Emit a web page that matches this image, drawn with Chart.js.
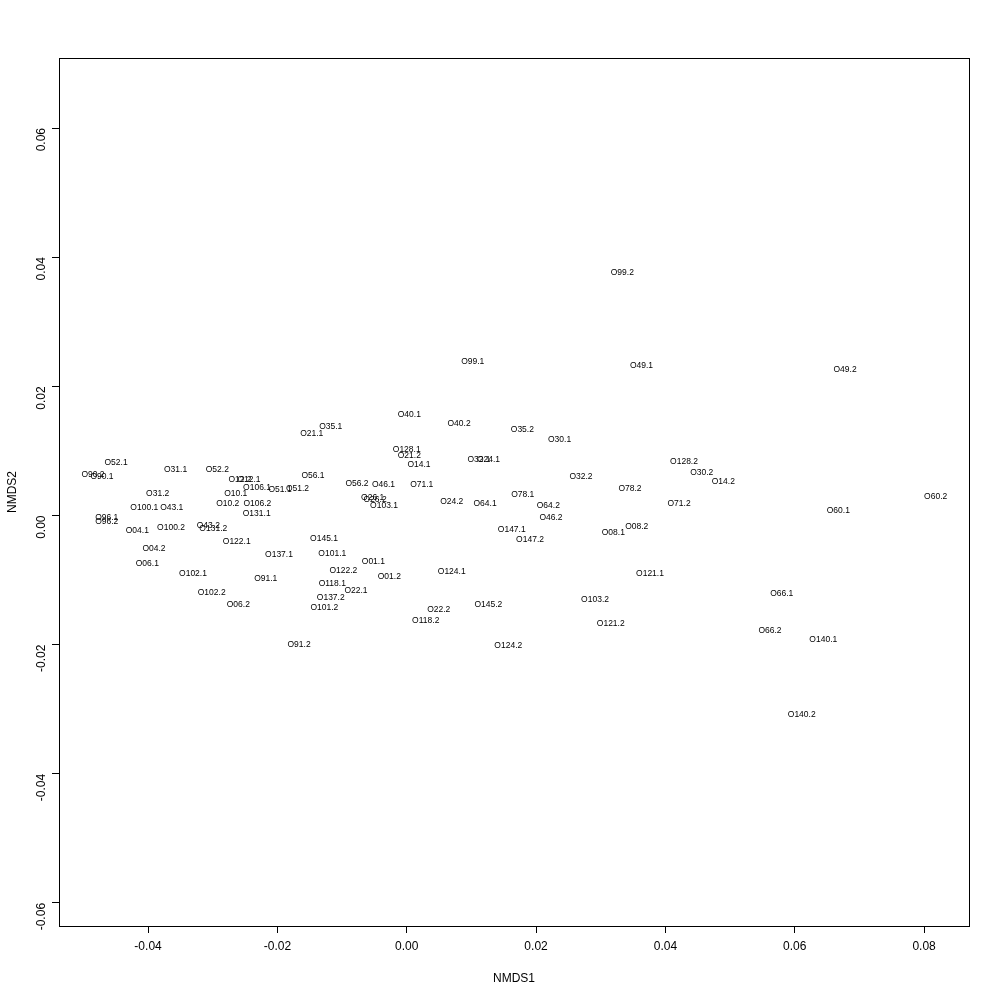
<!DOCTYPE html>
<html>
<head>
<meta charset="utf-8">
<script src="https://cdn.jsdelivr.net/npm/chart.js@4/dist/chart.umd.min.js"></script>
<style>
  html, body { margin: 0; padding: 0; background: #fff; }
  #wrap { width: 1000px; height: 1000px; }
</style>
</head>
<body>
<div id="wrap"><canvas id="nmds-chart__figure" width="1000" height="1000"></canvas></div>
<script>
/**************************************************************
                     NMDS ORDINATION PLOT
***************************************************************/
let sampleNames = [
  "O52.1", "O90.2", "O90.1", "O31.1", "O52.2", "O31.2", "O100.1", "O43.1", "O96.1", "O96.2",
  "O04.1", "O100.2", "O43.2", "O131.2", "O122.1", "O04.2", "O06.1", "O10.1", "O10.2", "O106.1",
  "O106.2", "O131.1", "O12.2", "O12.1", "O56.1", "O51.1", "O51.2", "O56.2", "O46.1", "O26.1",
  "O26.2", "O103.1", "O102.1", "O102.2", "O06.2", "O137.1", "O91.1", "O91.2", "O145.1", "O101.1",
  "O01.1", "O122.2", "O01.2", "O124.1", "O118.1", "O22.1", "O137.2", "O101.2", "O22.2", "O118.2",
  "O40.1", "O40.2", "O35.1", "O21.1", "O128.1", "O21.2", "O14.1", "O71.1", "O24.2", "O32.1",
  "O24.1", "O64.1", "O78.1", "O64.2", "O46.2", "O147.1", "O147.2", "O32.2", "O30.1", "O128.2",
  "O30.2", "O14.2", "O78.2", "O71.2", "O08.1", "O08.2", "O121.1", "O145.2", "O103.2", "O121.2",
  "O124.2", "O66.1", "O66.2", "O140.1", "O140.2", "O60.2", "O60.1", "O99.1", "O49.1", "O99.2",
  "O49.2", "O35.2"
]
let nmds1 = [
  -0.04495, -0.04851, -0.04712, -0.03575, -0.02929, -0.03851, -0.04058, -0.03634, -0.04639, -0.04639,
  -0.04166, -0.03645, -0.03068, -0.02991, -0.02629, -0.03908, -0.04011, -0.02644, -0.02768, -0.02315,
  -0.02310, -0.02320, -0.02578, -0.02439, -0.01449, -0.01959, -0.01689, -0.00769, -0.00359, -0.00526,
  -0.00490, -0.00351, -0.03305, -0.03016, -0.02604, -0.01975, -0.02180, -0.01665, -0.01279, -0.01151,
  -0.00516, -0.00980, -0.00269, 0.00696, -0.01151, -0.00784, -0.01175, -0.01274, 0.00495, 0.00294,
  0.00040, 0.00809, -0.01175, -0.01469, 0.00000, 0.00040, 0.00190, 0.00232, 0.00696, 0.01118,
  0.01265, 0.01211, 0.01794, 0.02190, 0.02231, 0.01624, 0.01907, 0.02695, 0.02363, 0.04288,
  0.04562, 0.04896, 0.03453, 0.04211, 0.03195, 0.03557, 0.03762, 0.01262, 0.02912, 0.03155,
  0.01571, 0.05799, 0.05618, 0.06442, 0.06108, 0.08180, 0.06674, 0.01021, 0.03631, 0.03334,
  0.06778, 0.01788
]
let nmds2 = [
  0.00824, 0.00627, 0.00596, 0.00705, 0.00715, 0.00344, 0.00127, 0.00127, -0.00034, -0.00096,
  -0.00240, -0.00189, -0.00152, -0.00204, -0.00406, -0.00508, -0.00740, 0.00338, 0.00189, 0.00426,
  0.00183, 0.00034, 0.00557, 0.00550, 0.00612, 0.00406, 0.00410, 0.00488, 0.00472, 0.00282,
  0.00251, 0.00147, -0.00898, -0.01195, -0.01386, -0.00612, -0.00972, -0.02008, -0.00364, -0.00585,
  -0.00709, -0.00859, -0.00952, -0.00875, -0.01050, -0.01169, -0.01267, -0.01422, -0.01463, -0.01629,
  0.01556, 0.01428, 0.01375, 0.01273, 0.01025, 0.00921, 0.00782, 0.00483, 0.00214, 0.00859,
  0.00859, 0.00178, 0.00328, 0.00152, -0.00034, -0.00214, -0.00369, 0.00601, 0.01169, 0.00833,
  0.00663, 0.00519, 0.00410, 0.00178, -0.00266, -0.00173, -0.00895, -0.01386, -0.01309, -0.01669,
  -0.02016, -0.01216, -0.01789, -0.01917, -0.03089, 0.00291, 0.00074, 0.02382, 0.02323, 0.03760,
  0.02253, 0.01335
]
let xTickValues = [-0.04, -0.02, 0.00, 0.02, 0.04, 0.06, 0.08]
let yTickValues = [-0.06, -0.04, -0.02, 0.00, 0.02, 0.04, 0.06]

let nmdsPoints = sampleNames.map((name, i) => ({ x: nmds1[i], y: nmds2[i], label: name }))

let fmtTick = v => Math.abs(v) < 1e-9 ? '0.00' : v.toFixed(2)

/*** draw sample names at point positions, plus the box round the plot ***/
let sampleLabelPlugin = {
  id: 'sampleLabels',
  afterDatasetsDraw(chart) {
    let ctx = chart.ctx
    let meta = chart.getDatasetMeta(0)
    ctx.save()
    ctx.fillStyle = '#000'
    ctx.font = '8.5px "Liberation Sans", Arial, sans-serif'
    ctx.textAlign = 'center'
    ctx.textBaseline = 'middle'
    meta.data.forEach((pt, i) => {
      ctx.fillText(chart.data.datasets[0].data[i].label, pt.x, pt.y)
    })
    let a = chart.chartArea
    ctx.strokeStyle = '#000'
    ctx.lineWidth = 1
    ctx.strokeRect(Math.round(a.left) + 0.5, Math.round(a.top) + 0.5,
      Math.round(a.right - a.left), Math.round(a.bottom - a.top))
    ctx.restore()
  }
}

let nmdsChartCanvas = document.getElementById("nmds-chart__figure").getContext('2d')
let nmdsChartConfig = {
  type: 'scatter',
  data: {
    datasets: [{
      data: nmdsPoints,
      pointRadius: 0,
      pointHoverRadius: 0
    }]
  },
  options: {
    responsive: false,
    animation: false,
    events: [],
    layout: { padding: { top: 58, right: 31, left: 0, bottom: 0 } },
    plugins: { legend: { display: false }, tooltip: { enabled: false } },
    scales: {
      x: {
        type: 'linear',
        min: -0.05377,
        max: 0.08695,
        afterFit: s => { s.height = 74 },
        afterBuildTicks: s => { s.ticks = xTickValues.map(v => ({ value: v })) },
        border: { display: false },
        grid: { drawOnChartArea: false, drawTicks: true, tickLength: 7, color: '#000', tickColor: '#000' },
        ticks: {
          color: '#000',
          padding: 6,
          font: { family: '"Liberation Sans", Arial, sans-serif', size: 12 },
          maxRotation: 0,
          callback: fmtTick
        },
        title: {
          display: true,
          text: 'NMDS1',
          color: '#000',
          padding: { top: 14, bottom: 14 },
          font: { family: '"Liberation Sans", Arial, sans-serif', size: 12 }
        }
      },
      y: {
        type: 'linear',
        min: -0.06357,
        max: 0.07084,
        afterFit: s => { s.width = 59 },
        afterBuildTicks: s => { s.ticks = yTickValues.map(v => ({ value: v })) },
        border: { display: false },
        grid: { drawOnChartArea: false, drawTicks: true, tickLength: 7, color: '#000', tickColor: '#000' },
        ticks: {
          color: '#000',
          padding: 10,
          minRotation: 90,
          maxRotation: 90,
          font: { family: '"Liberation Sans", Arial, sans-serif', size: 12 },
          callback: fmtTick
        },
        title: {
          display: true,
          text: 'NMDS2',
          color: '#000',
          padding: { top: 5, bottom: 5 },
          font: { family: '"Liberation Sans", Arial, sans-serif', size: 12 }
        }
      }
    }
  },
  plugins: [sampleLabelPlugin]
}

/*** Create new instance of chart using nmds canvas and nmds config object ***/
let nmdsChart = new Chart(nmdsChartCanvas, nmdsChartConfig)
</script>
</body>
</html>
